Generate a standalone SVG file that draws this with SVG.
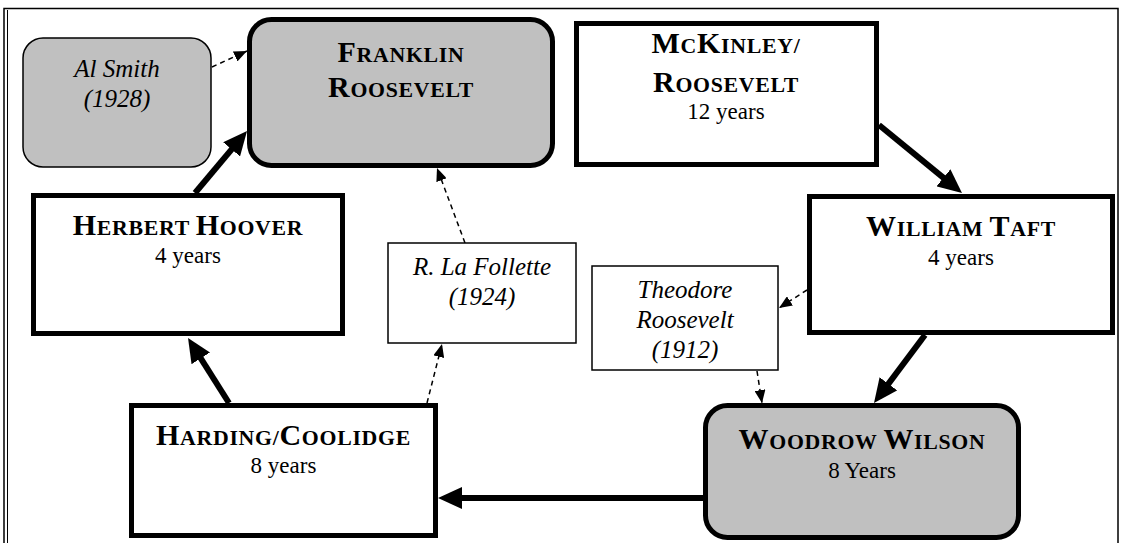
<svg xmlns="http://www.w3.org/2000/svg" width="1123" height="543" viewBox="0 0 1123 543">
<style>
.box{fill:#fff;stroke:#000;stroke-width:5}
.gbox{fill:#c0c0c0;stroke:#000;stroke-width:5}
.thin{fill:#fff;stroke:#000;stroke-width:1.5}
.gthin{fill:#c0c0c0;stroke:#000;stroke-width:1.5}
.t{font-family:"Liberation Serif","Times New Roman",serif;font-weight:bold;font-size:21.8px;fill:#000;text-anchor:middle;letter-spacing:0.7px}
.t .b{font-size:30px}
.r{font-family:"Liberation Serif","Times New Roman",serif;font-size:23px;fill:#000;text-anchor:middle}
.i{font-family:"Liberation Serif","Times New Roman",serif;font-style:italic;font-size:25px;fill:#000;text-anchor:middle}
.thick{stroke:#000;stroke-width:6;fill:none;marker-end:url(#big)}
.dash{stroke:#000;stroke-width:1.5;fill:none;stroke-dasharray:5 4;marker-end:url(#small)}
</style>
<defs>
<marker id="big" markerUnits="userSpaceOnUse" markerWidth="24" markerHeight="22" refX="16" refY="11" orient="auto">
<path d="M0,0 L24,11 L0,22 z" fill="#000"/>
</marker>
<marker id="small" markerUnits="userSpaceOnUse" markerWidth="13" markerHeight="11" refX="13" refY="5.5" orient="auto">
<path d="M0,0 L13,5.5 L0,11 z" fill="#000"/>
</marker>
</defs>
<rect width="1123" height="543" fill="#fff"/>
<g id="frame" fill="none" stroke="#000">
<path d="M4,543 V8.5 H1118 V543" stroke-width="1.5"/>
<path d="M7.5,543 V10" stroke-width="1"/>
</g>
<g id="connectors">
<path class="thick" d="M879,125 L955.8,187.9"/>
<path class="thick" d="M925,335 L878.8,396.6"/>
<path class="thick" d="M703,498 L446,498"/>
<path class="thick" d="M229,403 L192.3,344.8"/>
<path class="thick" d="M195,193 L241.9,137.1"/>
<path class="dash" d="M212,67 L247,51"/>
<path class="dash" d="M807,290 L779,308"/>
<path class="dash" d="M757,371 L762,403"/>
<path class="dash" d="M427,403 L442,344"/>
<path class="dash" d="M465,243 L437,168"/>
</g>
<g id="al-smith">
<rect class="gthin" x="23" y="38" width="188" height="129" rx="20"/>
<text class="i" x="117" y="77">Al Smith</text>
<text class="i" x="117" y="107">(1928)</text>
</g>
<g id="franklin-roosevelt">
<rect class="gbox" x="249.5" y="19.5" width="303" height="146" rx="22"/>
<text class="t" x="401" y="62"><tspan class="b">F</tspan>RANKLIN</text>
<text class="t" x="401" y="97"><tspan class="b">R</tspan>OOSEVELT</text>
</g>
<g id="mckinley-roosevelt">
<rect class="box" x="576.5" y="23.5" width="300" height="141"/>
<text class="t" x="726" y="53"><tspan class="b">M</tspan>C<tspan class="b">K</tspan>INLEY/</text>
<text class="t" x="726" y="92"><tspan class="b">R</tspan>OOSEVELT</text>
<text class="r" x="726" y="119">12 years</text>
</g>
<g id="william-taft">
<rect class="box" x="809.5" y="196.5" width="303" height="136"/>
<text class="t" x="961" y="236"><tspan class="b">W</tspan>ILLIAM <tspan class="b">T</tspan>AFT</text>
<text class="r" x="961" y="265">4 years</text>
</g>
<g id="herbert-hoover">
<rect class="box" x="33.5" y="195.5" width="309" height="138"/>
<text class="t" x="188" y="235"><tspan class="b">H</tspan>ERBERT <tspan class="b">H</tspan>OOVER</text>
<text class="r" x="188" y="263">4 years</text>
</g>
<g id="la-follette">
<rect class="thin" x="388" y="243" width="188" height="100"/>
<text class="i" x="482" y="275">R. La Follette</text>
<text class="i" x="482" y="305">(1924)</text>
</g>
<g id="theodore-roosevelt">
<rect class="thin" x="592" y="266" width="186" height="104"/>
<text class="i" x="685" y="298">Theodore</text>
<text class="i" x="685" y="328">Roosevelt</text>
<text class="i" x="685" y="358">(1912)</text>
</g>
<g id="harding-coolidge">
<rect class="box" x="131.5" y="405.5" width="304" height="130"/>
<text class="t" x="283.5" y="445"><tspan class="b">H</tspan>ARDING/<tspan class="b">C</tspan>OOLIDGE</text>
<text class="r" x="283.5" y="473">8 years</text>
</g>
<g id="woodrow-wilson">
<rect class="gbox" x="705.5" y="405.5" width="313" height="132" rx="22"/>
<text class="t" x="862" y="449"><tspan class="b">W</tspan>OODROW <tspan class="b">W</tspan>ILSON</text>
<text class="r" x="862" y="478">8 Years</text>
</g>
</svg>
